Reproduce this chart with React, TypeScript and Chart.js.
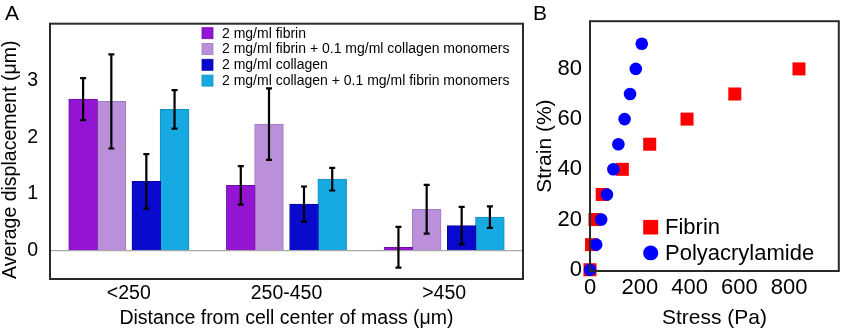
import React, { useEffect, useRef } from 'react';
import { Chart, registerables } from 'chart.js';

Chart.register(...registerables);

const FONT = "'Liberation Sans', Arial, Helvetica, sans-serif";

// ---- Panel A: displacement vs distance from cell center ----
const distanceBins = ['<250', '250-450', '>450'];
const seriesLabels = [
  '2 mg/ml fibrin',
  '2 mg/ml fibrin + 0.1 mg/ml collagen monomers',
  '2 mg/ml collagen',
  '2 mg/ml collagen + 0.1 mg/ml fibrin monomers',
];
const fibrin = [2.67, 1.15, 0.06];
const fibrinPlusCollagen = [2.63, 2.23, 0.73];
const collagen = [1.22, 0.82, 0.44];
const collagenPlusFibrin = [2.49, 1.26, 0.59];
const fibrinErr = [0.37, 0.34, 0.36];
const fibrinPlusCollagenErr = [0.83, 0.63, 0.43];
const collagenErr = [0.48, 0.31, 0.33];
const collagenPlusFibrinErr = [0.34, 0.2, 0.19];
const displacementTicks = [0, 1, 2, 3];

// ---- Panel B: strain vs stress ----
const fibrinStress = [0, 6, 20, 49, 130, 240, 390, 582, 840];
const fibrinStrain = [0, 10, 20, 30, 40, 50, 60, 70, 80];
const paStress = [0, 25, 45, 68, 94, 114, 139, 161, 184, 208];
const paStrain = [0, 10, 20, 30, 40, 50, 60, 70, 80, 90];
const stressTicks = [0, 200, 400, 600, 800];
const strainTicks = [0, 20, 40, 60, 80];

// bar placement inside each bin (bin units), fill and edge colours
const barOffsets = [-0.29, -0.111, 0.111, 0.29];
const barColors = ['#9414d3', '#bb8fd9', '#0a0acf', '#16a9e2'];
const barEdges = ['#7010a8', '#a07cc0', '#08089a', '#1290c0'];

const framePlugin = {
  id: 'frame',
  afterDraw(chart: any) {
    const { ctx, chartArea } = chart;
    ctx.save();
    ctx.strokeStyle = '#2a2a2a';
    ctx.lineWidth = 2;
    ctx.strokeRect(chartArea.left, chartArea.top, chartArea.right - chartArea.left, chartArea.bottom - chartArea.top);
    ctx.restore();
  },
};

const errorBarPlugin = {
  id: 'errorBars',
  afterDatasetsDraw(chart: any) {
    const { ctx } = chart;
    const yScale = chart.scales.y;
    chart.data.datasets.forEach((ds: any, i: number) => {
      if (!ds.errors) return;
      const meta = chart.getDatasetMeta(i);
      meta.data.forEach((bar: any, j: number) => {
        const v = ds.data[j].y;
        const e = ds.errors[j];
        const x = bar.x;
        const yt = yScale.getPixelForValue(v + e);
        const yb = yScale.getPixelForValue(v - e);
        ctx.save();
        ctx.strokeStyle = '#000';
        ctx.lineWidth = 2.2;
        ctx.beginPath();
        ctx.moveTo(x, yt);
        ctx.lineTo(x, yb);
        ctx.moveTo(x - 3, yt);
        ctx.lineTo(x + 3, yt);
        ctx.moveTo(x - 3, yb);
        ctx.lineTo(x + 3, yb);
        ctx.stroke();
        ctx.restore();
      });
    });
  },
};

const legendAPlugin = {
  id: 'legendA',
  afterDraw(chart: any) {
    const { ctx, chartArea } = chart;
    ctx.save();
    ctx.font = `14px ${FONT}`;
    ctx.textBaseline = 'middle';
    chart.data.datasets.forEach((ds: any, i: number) => {
      const cy = chartArea.top + 9.5 + i * 15.8;
      const x0 = chartArea.left + 152;
      ctx.fillStyle = ds.backgroundColor;
      ctx.fillRect(x0, cy - 5.5, 11, 11);
      ctx.strokeStyle = ds.borderColor;
      ctx.lineWidth = 0.8;
      ctx.strokeRect(x0, cy - 5.5, 11, 11);
      ctx.fillStyle = '#000';
      ctx.fillText(ds.label, chartArea.left + 172, cy + 0.5);
    });
    ctx.restore();
  },
};

const legendBPlugin = {
  id: 'legendB',
  afterDraw(chart: any) {
    const { ctx, chartArea } = chart;
    ctx.save();
    ctx.font = `22px ${FONT}`;
    ctx.textBaseline = 'middle';
    const rows = [chart.data.datasets[0], chart.data.datasets[1]];
    rows.forEach((ds: any, i: number) => {
      const cy = chartArea.top + 206 + i * 25.7;
      const cx = chartArea.left + 60.7;
      ctx.fillStyle = ds.backgroundColor;
      if (ds.pointStyle === 'rect') {
        ctx.fillRect(cx - 7.5, cy - 7.3, 15, 14.6);
      } else {
        ctx.beginPath();
        ctx.ellipse(cx, cy, 7.6, 7.4, 0, 0, Math.PI * 2);
        ctx.fill();
      }
      ctx.fillStyle = '#000';
      ctx.fillText(ds.label, chartArea.left + 75, cy + 1);
    });
    ctx.restore();
  },
};

function DisplacementChart() {
  const ref = useRef<HTMLCanvasElement>(null);
  useEffect(() => {
    const series = [fibrin, fibrinPlusCollagen, collagen, collagenPlusFibrin];
    const errs = [fibrinErr, fibrinPlusCollagenErr, collagenErr, collagenPlusFibrinErr];
    const chart = new Chart(ref.current as HTMLCanvasElement, {
      type: 'bar',
      data: {
        datasets: series.map((vals, s) => ({
          label: seriesLabels[s],
          data: vals.map((v, i) => ({ x: i + barOffsets[s], y: v })),
          errors: errs[s],
          backgroundColor: barColors[s],
          borderColor: barEdges[s],
          borderWidth: 1,
          barThickness: 28.8,
          grouped: false,
        })) as any,
      },
      options: {
        responsive: false,
        animation: false,
        events: [],
        layout: { padding: { top: 14, right: 7, left: 0, bottom: 0 } },
        plugins: { legend: { display: false }, tooltip: { enabled: false } },
        scales: {
          x: {
            type: 'linear',
            min: -0.5,
            max: 2.5,
            offset: false,
            afterBuildTicks: (s: any) => {
              s.ticks = distanceBins.map((_, i) => ({ value: i }));
            },
            afterFit: (s: any) => {
              s.height = 55;
            },
            grid: { display: false, drawTicks: false },
            border: { display: false },
            ticks: {
              padding: 3,
              color: '#000',
              maxRotation: 0,
              font: { family: FONT, size: 19.5 },
              callback: (v: any) => distanceBins[Math.round(v)] ?? '',
            },
            title: {
              display: true,
              text: 'Distance from cell center of mass (μm)',
              color: '#000',
              font: { family: FONT, size: 19.5 },
              padding: { top: 0, bottom: 4 },
            },
          },
          y: {
            min: -0.5,
            max: 4,
            afterBuildTicks: (s: any) => {
              s.ticks = displacementTicks.map((v) => ({ value: v }));
            },
            afterFit: (s: any) => {
              s.width = 50;
            },
            grid: {
              drawTicks: false,
              color: (c: any) => (c.tick && c.tick.value === 0 ? '#a8a8a8' : 'rgba(0,0,0,0)'),
              lineWidth: 1.2,
            },
            border: { display: false },
            ticks: { padding: 12, color: '#000', font: { family: FONT, size: 19.5 } },
            title: {
              display: true,
              align: 'start',
              text: 'Average displacement (μm)',
              color: '#000',
              font: { family: FONT, size: 19.5, lineHeight: 1.05 },
              padding: { top: 0, bottom: 0 },
            },
          },
        },
      } as any,
      plugins: [errorBarPlugin, framePlugin, legendAPlugin],
    });
    return () => chart.destroy();
  }, []);
  return <canvas ref={ref} width={530} height={334} style={{ position: 'absolute', left: 0, top: 0 }} />;
}

function StressStrainChart() {
  const ref = useRef<HTMLCanvasElement>(null);
  useEffect(() => {
    const chart = new Chart(ref.current as HTMLCanvasElement, {
      type: 'scatter',
      data: {
        datasets: [
          {
            label: 'Fibrin',
            data: fibrinStress.map((x, i) => ({ x, y: fibrinStrain[i] })),
            pointStyle: 'rect',
            pointRadius: 9.2,
            backgroundColor: '#ff0000',
            borderColor: '#ff0000',
            borderWidth: 0,
            clip: false,
            order: 2,
          },
          {
            label: 'Polyacrylamide',
            data: paStress.map((x, i) => ({ x, y: paStrain[i] })),
            pointStyle: 'circle',
            pointRadius: 6.3,
            backgroundColor: '#0000ff',
            borderColor: '#0000ff',
            borderWidth: 0,
            clip: false,
            order: 1,
          },
        ] as any,
      },
      options: {
        responsive: false,
        animation: false,
        events: [],
        layout: { padding: { top: 14, right: 2, left: 0, bottom: 0 } },
        plugins: { legend: { display: false }, tooltip: { enabled: false } },
        scales: {
          x: {
            type: 'linear',
            min: 0,
            max: 1000,
            afterBuildTicks: (s: any) => {
              s.ticks = stressTicks.map((v) => ({ value: v }));
            },
            afterFit: (s: any) => {
              s.height = 63;
            },
            grid: { display: false, drawTicks: false },
            border: { display: false },
            ticks: { padding: 4, color: '#000', maxRotation: 0, font: { family: FONT, size: 22 } },
            title: {
              display: true,
              text: 'Stress (Pa)',
              color: '#000',
              font: { family: FONT, size: 21 },
              padding: { top: 0, bottom: 3 },
            },
          },
          y: {
            min: -0.5,
            max: 99,
            afterBuildTicks: (s: any) => {
              s.ticks = strainTicks.map((v) => ({ value: v }));
            },
            afterFit: (s: any) => {
              s.width = 60;
            },
            grid: { display: false, drawTicks: false },
            border: { display: false },
            ticks: { padding: 8, color: '#000', font: { family: FONT, size: 22 } },
            title: {
              display: true,
              text: 'Strain (%)',
              color: '#000',
              font: { family: FONT, size: 21 },
              padding: { top: 3, bottom: 0 },
            },
          },
        },
      } as any,
      plugins: [framePlugin, legendBPlugin],
    });
    return () => chart.destroy();
  }, []);
  return <canvas ref={ref} width={318} height={334} style={{ position: 'absolute', left: 530, top: 0 }} />;
}

const panelLabel: React.CSSProperties = {
  position: 'absolute',
  top: 2,
  fontFamily: FONT,
  fontSize: 21,
  lineHeight: '21px',
  color: '#000',
};

export default function App() {
  return (
    <div style={{ position: 'fixed', left: 0, top: 0, width: 848, height: 334, background: '#fff', overflow: 'hidden' }}>
      <DisplacementChart />
      <StressStrainChart />
      <div style={{ ...panelLabel, left: 5 }}>A</div>
      <div style={{ ...panelLabel, left: 533 }}>B</div>
    </div>
  );
}
